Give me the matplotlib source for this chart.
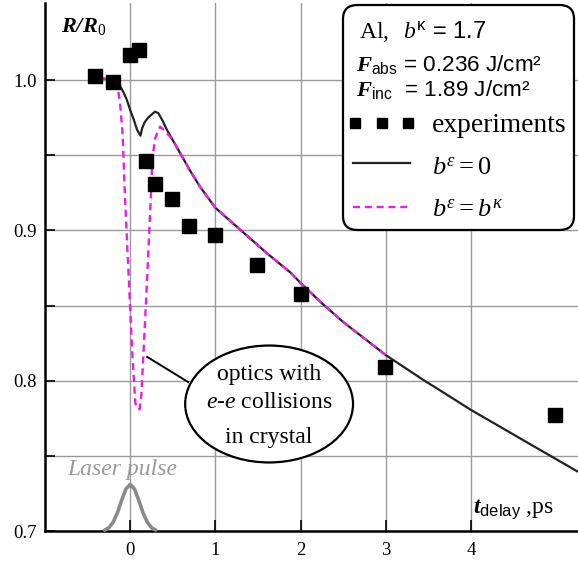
import matplotlib
matplotlib.use("Agg")
import matplotlib.pyplot as plt
from matplotlib.patches import Ellipse, FancyBboxPatch
from matplotlib.lines import Line2D

plt.rcParams['font.family'] = ['Liberation Serif', 'DejaVu Serif']
plt.rcParams['mathtext.fontset'] = 'custom'
plt.rcParams['mathtext.rm'] = 'Liberation Serif'
plt.rcParams['mathtext.it'] = 'Liberation Serif:italic'
plt.rcParams['mathtext.bf'] = 'Liberation Serif:italic:bold'
plt.rcParams['mathtext.sf'] = 'Liberation Sans'

# ---------------- data ----------------
exp_t = [-0.41, -0.20, 0.00, 0.10, 0.19, 0.29, 0.49, 0.69, 1.00, 1.49, 2.00, 2.99, 4.99]
exp_r = [1.003, 0.999, 1.017, 1.020, 0.946, 0.931, 0.921, 0.903, 0.897, 0.877, 0.858, 0.809, 0.777]

b0_t = [-0.32, -0.25, -0.18, -0.12, -0.08, -0.04, 0.00, 0.04, 0.08, 0.12, 0.14, 0.17, 0.21,
        0.25, 0.29, 0.33, 0.38, 0.43, 0.50, 0.61, 0.70, 0.82, 1.00, 1.32, 1.50, 1.60, 1.88,
        2.00, 2.26, 2.50, 2.75, 3.00, 3.20, 3.44, 3.70, 4.00, 4.30, 4.61, 4.90, 5.25]
b0_r = [1.001, 1.0005, 0.999, 0.996, 0.992, 0.987, 0.980, 0.974, 0.967, 0.963, 0.968, 0.972, 0.975,
        0.977, 0.979, 0.978, 0.973, 0.967, 0.960, 0.949, 0.940, 0.929, 0.915, 0.899, 0.890, 0.885, 0.872,
        0.865, 0.851, 0.839, 0.828, 0.817, 0.8095, 0.8005, 0.7913, 0.7805, 0.7707, 0.7605, 0.751, 0.7396]

bk_t = [-0.32, -0.20, -0.15, -0.12, -0.09, -0.06, -0.02, 0.02, 0.06, 0.09, 0.11, 0.13, 0.16,
        0.20, 0.24, 0.26, 0.29, 0.35, 0.43, 0.50, 0.61, 0.70, 0.82, 1.00, 1.32, 1.50, 1.60,
        1.88, 2.00, 2.26, 2.50, 2.75, 3.00]
bk_r = [1.001, 1.000, 0.996, 0.985, 0.965, 0.920, 0.872, 0.823, 0.785, 0.781, 0.781, 0.790, 0.823,
        0.870, 0.920, 0.947, 0.961, 0.969, 0.965, 0.960, 0.949, 0.940, 0.929, 0.915, 0.899, 0.890, 0.885,
        0.872, 0.865, 0.851, 0.839, 0.828, 0.817]

pulse_t = [-0.30, -0.25, -0.20, -0.15, -0.10, -0.05, 0.00, 0.05, 0.10, 0.15, 0.20, 0.25, 0.30]
pulse_r = [0.7006, 0.7022, 0.7059, 0.7122, 0.7205, 0.7280, 0.7310, 0.7280, 0.7205, 0.7122, 0.7059, 0.7022, 0.7006]

x_ticks = [0, 1, 2, 3, 4]
y_ticks = [0.7, 0.8, 0.9, 1.0]
y_minor = [0.75, 0.85, 0.95]

W, H = 578, 563
fig = plt.figure(figsize=(W / 100, H / 100), dpi=100)
ax = fig.add_axes([45 / W, 1 - 531 / H, 1 - 45 / W, (531 - 3) / H])
ax.set_xlim(-1.0, 5.255)
ax.set_ylim(0.7, 1.0513)

ax.set_xticks(x_ticks)
ax.set_yticks(y_ticks)
ax.set_yticks(y_minor, minor=True)
ax.set_yticklabels(['0.7', '0.8', '0.9', '1.0'])
ax.tick_params(axis='both', which='both', direction='in', width=1.2, labelsize=13.5,
               colors='black')
ax.tick_params(axis='x', length=8, pad=8)
ax.tick_params(axis='y', which='both', length=7, pad=6)
ax.grid(True, which='both', axis='y', color='#9a9a9a', lw=1.0)
ax.grid(True, which='major', axis='x', color='#9a9a9a', lw=1.0)
ax.set_axisbelow(True)
for s in ['top', 'right']:
    ax.spines[s].set_visible(False)
for s in ['left', 'bottom']:
    ax.spines[s].set_linewidth(1.8)

# laser pulse
ax.plot(pulse_t, pulse_r, color='#8a8a8a', lw=2.6, solid_capstyle='round', zorder=3, clip_on=False)
ax.text(-0.74, 0.7406, 'Laser pulse', fontsize=17, style='italic', color='#999999',
        ha='left', va='center')

# curves
ax.plot(b0_t, b0_r, color='#222222', lw=1.6, zorder=4)
ax.plot(bk_t, bk_r, color='#e81ee8', lw=1.7, ls=(0, (3, 2)), zorder=5)
ax.plot(exp_t, exp_r, ls='none', marker='s', ms=9.5, color='black', zorder=6)

# annotation
ax.plot([0.2, 0.68], [0.8158, 0.7991], color='black', lw=1.4, zorder=6)
ell = Ellipse((1.63, 0.7845), width=1.97, height=0.0778, facecolor='white',
              edgecolor='black', lw=1.6, zorder=7)
ax.add_patch(ell)
ax.text(1.63, 0.8040, 'optics with', fontsize=17, ha='center', va='center', zorder=8)
ax.text(1.63, 0.7852, r'$e$-$e$ collisions', fontsize=17, ha='center', va='center', zorder=8)
ax.text(1.63, 0.7625, 'in crystal', fontsize=17, ha='center', va='center', zorder=8)

# axis labels
ax.text(-0.81, 1.032, r'$\mathbf{R/R}_{\mathrm{0}}$', fontsize=16, ha='left', va='baseline')
ax.text(4.02, 0.712, r'$\mathbf{t}_{\mathsf{delay}}$ ,ps', fontsize=17, ha='left', va='baseline')

# legend box
def fx(x):
    return x / W

def fy(y):
    return 1 - y / H

box = FancyBboxPatch((fx(343), fy(230)), fx(574) - fx(343), fy(5) - fy(230),
                     boxstyle='round,pad=0,rounding_size=0.025', transform=fig.transFigure,
                     facecolor='white', edgecolor='black', lw=1.6, zorder=10)
fig.patches.append(box)

fig.text(fx(359), fy(38), r'$\mathrm{Al,}\ \ b^{\mathsf{\kappa}}$ = 1.7', fontsize=17,
         family='Liberation Sans', ha='left', va='baseline', zorder=11)
fig.text(fx(356), fy(71), r'$\mathbf{F}_{\mathsf{abs}}$ = 0.236 J/cm²', fontsize=16.2,
         family='Liberation Sans', ha='left', va='baseline', zorder=11)
fig.text(fx(356), fy(96), r'$\mathbf{F}_{\mathsf{inc}}$  = 1.89 J/cm²', fontsize=16.2,
         family='Liberation Sans', ha='left', va='baseline', zorder=11)

for xm in [355, 382, 408]:
    fig.lines.append(Line2D([fx(xm)], [fy(123)], transform=fig.transFigure, marker='s',
                            ms=7.5, color='black', ls='none', zorder=11))
fig.text(fx(432), fy(132), 'experiments', fontsize=19.8, ha='left', va='baseline', zorder=11)

fig.lines.append(Line2D([fx(353), fx(410)], [fy(163), fy(163)], transform=fig.transFigure,
                        color='#222222', lw=1.6, zorder=11))
fig.text(fx(432), fy(175), r'$b^{ε} = 0$', fontsize=19, ha='left', va='baseline', zorder=11)

fig.lines.append(Line2D([fx(353), fx(410)], [fy(207), fy(207)], transform=fig.transFigure,
                        color='#e81ee8', lw=1.7, ls=(0, (3, 2)), zorder=11))
fig.text(fx(432), fy(217), r'$b^{ε} = b^{κ}$', fontsize=19, ha='left', va='baseline', zorder=11)

fig.savefig('out.png', dpi=100)
